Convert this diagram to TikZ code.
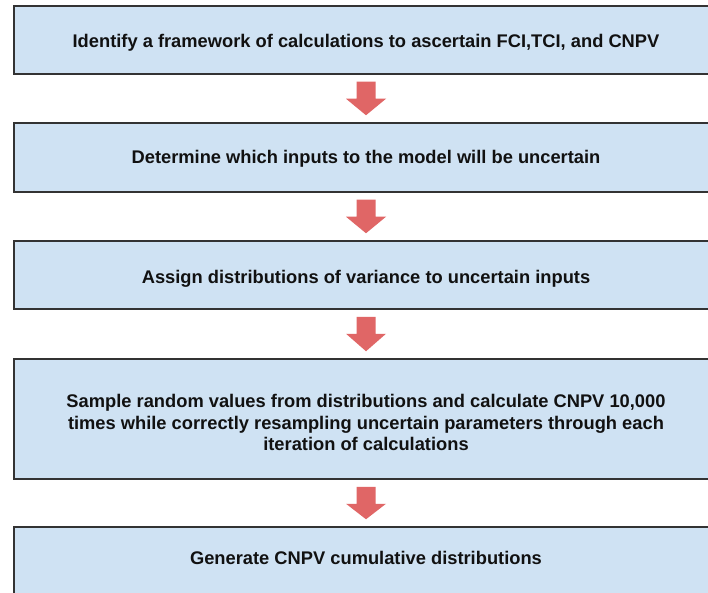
\documentclass[tikz,border=0pt]{standalone}
\usepackage{fontspec}
\setmainfont{Liberation Sans}
\usetikzlibrary{calc}
\definecolor{boxfill}{HTML}{CFE2F3}
\definecolor{boxline}{HTML}{333333}
\definecolor{arrowred}{HTML}{E06666}
\definecolor{txt}{HTML}{111111}
\tikzset{
  stepbox/.style={draw=boxline, fill=boxfill, line width=1.5pt, minimum width=704pt,
    align=center, text=txt, font=\bfseries\fontsize{18.3}{21.7}\selectfont, inner sep=0pt},
  oneline/.style={text height=12pt, text depth=0pt},
}
\newcommand\blockarrowdown[2]{%
  \fill[arrowred] ($(#1.south)+(-9.5,7)$) -- ($(#1.south)+(9.5,7)$) -- ($(#1.south)+(9.5,24)$)
    -- ($(#1.south)+(20,24)$) -- ($(#2.north)+(0,-7)$) -- ($(#1.south)+(-20,24)$)
    -- ($(#1.south)+(-9.5,24)$) -- cycle;}
\begin{document}
\begin{tikzpicture}[x=1pt,y=-1pt]
\useasboundingbox (0,0) rectangle (708,593);
\clip (0,0) rectangle (708,593);
\fill[white] (0,0) rectangle (708,593);
\node[stepbox, oneline, text height=16pt, minimum height=68pt] (b1) at (366,40) {Identify a framework of calculations to ascertain FCI,TCI, and CNPV};
\node[stepbox, oneline, minimum height=69pt] (b2) at (366,157.5) {Determine which inputs to the model will be uncertain};
\node[stepbox, oneline, text height=16pt, minimum height=68pt] (b3) at (366,275) {Assign distributions of variance to uncertain inputs};
\node[stepbox, text height=64pt, minimum height=120pt] (b4) at (366,419) {Sample random values from distributions and calculate CNPV 10,000\\times while correctly resampling uncertain parameters through each\\iteration of calculations};
\node[stepbox, oneline, minimum height=70pt, text depth=8pt] (b5) at (366,562) {Generate CNPV cumulative distributions};
\blockarrowdown{b1}{b2}
\blockarrowdown{b2}{b3}
\blockarrowdown{b3}{b4}
\blockarrowdown{b4}{b5}
\end{tikzpicture}
\end{document}
